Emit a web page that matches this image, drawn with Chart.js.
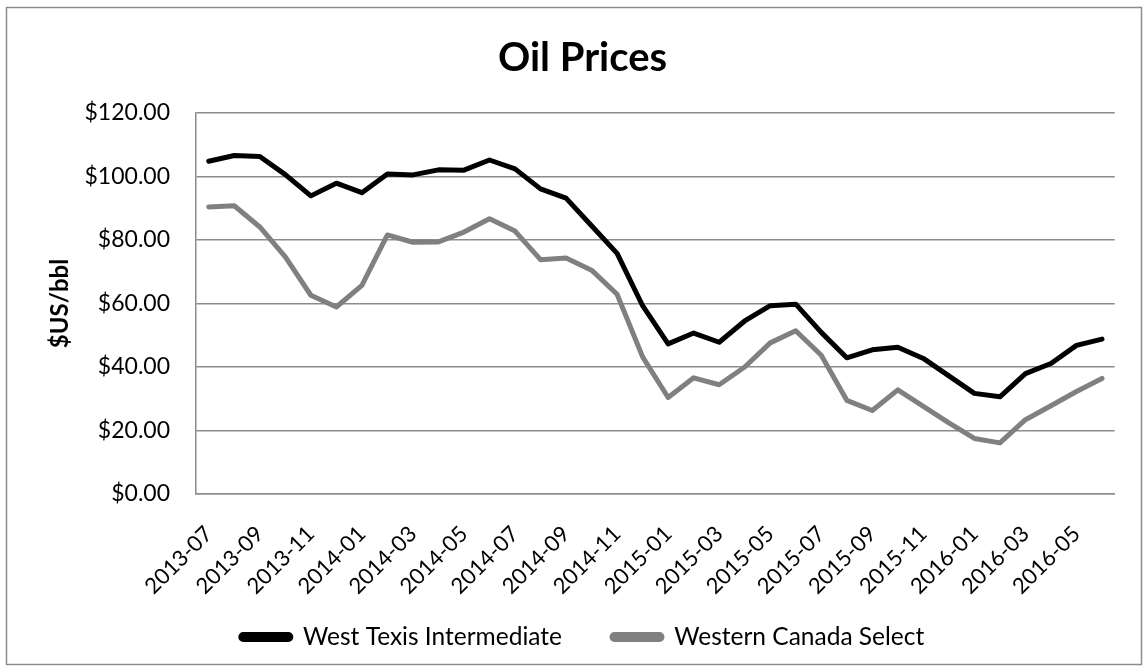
<!DOCTYPE html>
<html>
<head>
<meta charset="utf-8">
<script src="https://cdn.jsdelivr.net/npm/chart.js@4.4.1/dist/chart.umd.min.js"></script>
<style>
  html, body { margin: 0; padding: 0; background: #fff; }
  #wrap { width: 1148px; height: 672px; }
</style>
</head>
<body>
<div id="wrap"><canvas id="oilChart" width="1148" height="672"></canvas></div>
<script>
// --- DATA ---
const months = [
  '2013-07', '2013-08', '2013-09', '2013-10', '2013-11', '2013-12',
  '2014-01', '2014-02', '2014-03', '2014-04', '2014-05', '2014-06',
  '2014-07', '2014-08', '2014-09', '2014-10', '2014-11', '2014-12',
  '2015-01', '2015-02', '2015-03', '2015-04', '2015-05', '2015-06',
  '2015-07', '2015-08', '2015-09', '2015-10', '2015-11', '2015-12',
  '2016-01', '2016-02', '2016-03', '2016-04', '2016-05', '2016-06'
];

const wtiPrices = [
  104.8, 106.6, 106.3, 100.6, 93.9, 97.9,
  94.9, 100.8, 100.5, 102.1, 102.0, 105.2,
  102.4, 96.1, 93.2, 84.5, 75.8, 59.3,
  47.3, 50.7, 47.8, 54.5, 59.3, 59.8,
  50.9, 42.9, 45.4, 46.2, 42.7, 37.2,
  31.7, 30.6, 37.9, 41.1, 46.8, 48.8
];

const wcsPrices = [
  90.4, 90.8, 84.1, 74.7, 62.6, 58.9,
  65.7, 81.6, 79.3, 79.4, 82.5, 86.7,
  82.8, 73.8, 74.3, 70.5, 62.9, 43.2,
  30.4, 36.6, 34.4, 40.0, 47.6, 51.4,
  43.7, 29.5, 26.3, 32.8, 27.6, 22.4,
  17.5, 16.1, 23.4, 27.8, 32.3, 36.4
];

const yTickValues = [0, 20, 40, 60, 80, 100, 120];

// --- LAYOUT ---
const font = 'Lato';
const plotBottom = 494;     // pixel row of the $0.00 line
const legendMidY = 637;     // centre line of the legend row
const padBottom = -20;

// --- PLUGINS ---
// white background plus the thin grey frame round the whole chart
const frame = {
  id: 'frame',
  beforeDraw(chart) {
    const c = chart.ctx;
    c.save();
    c.fillStyle = '#ffffff';
    c.fillRect(0, 0, chart.width, chart.height);
    c.strokeStyle = '#8c8c8c';
    c.lineWidth = 1.5;
    c.strokeRect(6.5, 7.5, chart.width - 13, chart.height - 15);
    c.restore();
  }
};

// wide gap between legend entries needs a big padding, so pull the row back up
const legendShift = {
  id: 'legendShift',
  afterLayout(chart) {
    const lg = chart.legend;
    const pad = lg.options.labels.padding;
    const itemH = lg.height - pad - 10;
    const dy = lg.top + pad + itemH / 2 - legendMidY;
    lg.top -= dy;
    lg.bottom -= dy;
  }
};

// --- CHART ---
const ctx = document.getElementById('oilChart').getContext('2d');
const oilChart = new Chart(ctx, {
  type: 'line',
  data: {
    labels: months,
    datasets: [
      {
        label: 'West Texis Intermediate',
        data: wtiPrices,
        borderColor: '#000000',
        backgroundColor: '#000000',
        borderWidth: 5,
        pointRadius: 0,
        tension: 0,
        borderJoinStyle: 'round',
        borderCapStyle: 'round'
      },
      {
        label: 'Western Canada Select',
        data: wcsPrices,
        borderColor: '#808080',
        backgroundColor: '#808080',
        borderWidth: 5,
        pointRadius: 0,
        tension: 0,
        borderJoinStyle: 'round',
        borderCapStyle: 'round'
      }
    ]
  },
  options: {
    responsive: false,
    animation: false,
    layout: { padding: { left: 42, right: 25, top: 0, bottom: padBottom } },
    plugins: {
      title: {
        display: true,
        text: 'Oil Prices',
        color: '#000',
        font: { family: font, size: 40, weight: 'bold' },
        padding: { top: 34, bottom: 31 }
      },
      legend: {
        position: 'bottom',
        labels: {
          color: '#000',
          font: { family: font, size: 24.5 },
          boxWidth: 50,
          boxHeight: 5,
          padding: 50,
          useBorderRadius: true,
          borderRadius: 2.5
        }
      },
      tooltip: { enabled: false }
    },
    scales: {
      x: {
        offset: true,
        grid: { display: false, drawTicks: false },
        border: { display: true, color: '#8c8c8c', width: 1.5 },
        ticks: {
          color: '#000',
          font: { family: font, size: 22 },
          autoSkip: false,
          maxRotation: 45,
          minRotation: 45,
          padding: 27,
          callback: function (value, index) {
            return index % 2 === 0 ? months[index] : '';
          }
        },
        afterFit(scale) {
          const ch = scale.chart;
          scale.height = ch.height - padBottom - ch.legend.height - plotBottom;
        }
      },
      y: {
        min: 0,
        max: 120,
        grid: { color: '#8c8c8c', lineWidth: 1.5, drawTicks: false },
        border: { display: true, color: '#8c8c8c', width: 1.5 },
        afterBuildTicks(scale) {
          scale.ticks = yTickValues.map(v => ({ value: v }));
        },
        ticks: {
          color: '#000',
          font: { family: font, size: 23 },
          padding: 26,
          callback: v => '$' + v.toFixed(2)
        },
        title: {
          display: true,
          text: '$US/bbl',
          color: '#000',
          font: { family: font, size: 24, weight: 'bold' },
          padding: { top: 4, bottom: 0 }
        },
        afterFit(scale) { scale.width = 154; }
      }
    }
  },
  plugins: [frame, legendShift]
});
</script>
</body>
</html>
